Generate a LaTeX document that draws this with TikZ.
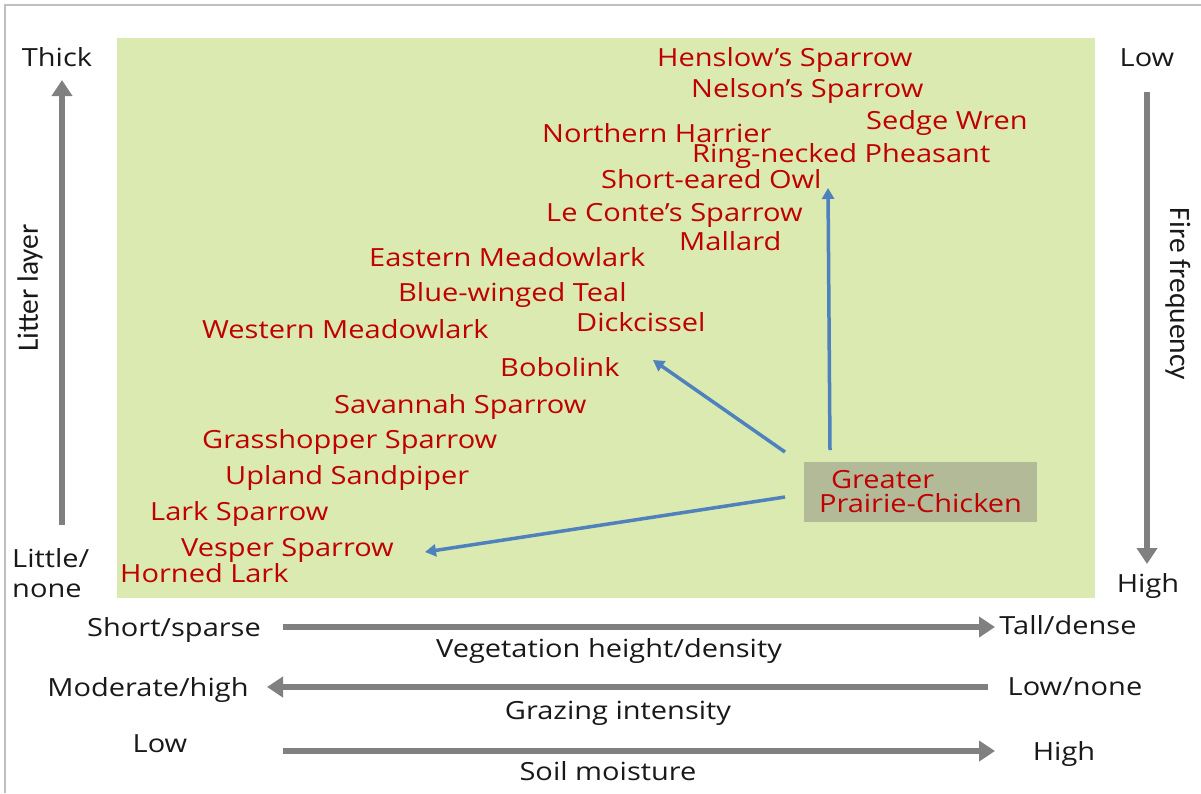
\documentclass[tikz,border=0pt]{standalone}
\usepackage{fontspec}
\setmainfont{Open Sans}[FakeStretch=1.16]
\newfontfamily\axisfont{Carlito}
\usetikzlibrary{arrows.meta}
\definecolor{meadow}{HTML}{DAEAB1}
\definecolor{birdred}{HTML}{C00000}
\definecolor{axisgray}{HTML}{808080}
\definecolor{flowblue}{HTML}{4F81BD}
\definecolor{chickbg}{HTML}{B3BA98}
\definecolor{framegray}{HTML}{BFBFBF}
\tikzset{
  bird/.style={text=birdred,inner sep=0pt,anchor=base west},
  lbl/.style={text=black!90,inner sep=0pt,anchor=base},
  axistitle/.style={font=\axisfont\fontsize{29.5}{34}\selectfont,text=black!90,inner sep=0pt},
  chick/.style={fill=chickbg,text=birdred,inner sep=0pt,align=left,
    minimum width=233,minimum height=60,font=\fontsize{25}{24}\selectfont},
  gradient/.style={-{Triangle[length=16pt,width=20pt]},line width=6pt,axisgray},
  flow/.style={-{Triangle[length=11pt,width=12pt]},line width=3.5pt,flowblue}}
\begin{document}
\begin{tikzpicture}[x=1pt,y=-1pt,font=\fontsize{25}{30}\selectfont]
  \useasboundingbox (0,0) rectangle (1201,793);
  \draw[framegray,line width=2pt] (5,793) |- (1201,5);
  \fill[meadow] (117,38) rectangle (1095,598);
  % birds, from thick litter down to bare ground
  \node[bird] (hens) at (657,66) {Henslow’s Sparrow};
  \node[bird] (nels) at (691,97) {Nelson’s Sparrow};
  \node[bird] (sedge) at (866,129) {Sedge Wren};
  \node[bird] (harrier) at (542,142) {Northern Harrier};
  \node[bird] (pheasant) at (692,162) {Ring-necked Pheasant};
  \node[bird] (owl) at (601,188) {Short-eared Owl};
  \node[bird] (lecontes) at (546,221) {Le Conte’s Sparrow};
  \node[bird] (mallard) at (679,250) {Mallard};
  \node[bird] (emeadow) at (369,266) {Eastern Meadowlark};
  \node[bird] (teal) at (398,301) {Blue-winged Teal};
  \node[bird] (wmeadow) at (202,338) {Western Meadowlark};
  \node[bird] (dick) at (576,331) {Dickcissel};
  \node[bird] (bobo) at (500,376) {Bobolink};
  \node[bird] (savannah) at (334,413) {Savannah Sparrow};
  \node[bird] (grasshopper) at (202,448) {Grasshopper Sparrow};
  \node[bird] (upland) at (225,484) {Upland Sandpiper};
  \node[bird] (larkspar) at (150,520) {Lark Sparrow};
  \node[bird] (vesper) at (181,556) {Vesper Sparrow};
  \node[bird] (horned) at (120,582) {Horned Lark};
  \node[chick] (gpc) at (920.5,492) {\hspace*{12pt}Greater\\Prairie-Chicken};
  % prairie-chicken spans the whole gradient
  \coordinate (upTail) at (830,450);
  \coordinate (upTip) at (828,188);
  \coordinate (diagTail) at (785,452);
  \coordinate (diagTip) at (653,360);
  \coordinate (lowTail) at (785,497);
  \coordinate (lowTip) at (425,552);
  \draw[flow] (upTail) -- (upTip);
  \draw[flow] (diagTail) -- (diagTip);
  \draw[flow] (lowTail) -- (lowTip);
  % side axes
  \node[lbl] (thick) at (57,66) {Thick};
  \node[lbl,anchor=west,align=left] (little) at (12,573) {Little/\\none};
  \node[axistitle,rotate=90] (litter) at (30,288) {Litter layer};
  \node[lbl] (fireLow) at (1147,66) {Low};
  \node[lbl] (fireHigh) at (1148,592) {High};
  \node[axistitle,rotate=-90] (fire) at (1178,294) {Fire frequency};
  \coordinate (litterLo) at (62,525);
  \coordinate (litterHi) at (62,80);
  \coordinate (fireLo) at (1147,92);
  \coordinate (fireHi) at (1147,564);
  \draw[gradient] (litterLo) -- (litterHi);
  \draw[gradient] (fireLo) -- (fireHi);
  % bottom axes
  \node[lbl] (short) at (174,636) {Short/sparse};
  \node[lbl] (tall) at (1068,634) {Tall/dense};
  \node[lbl] (veg) at (609,657) {Vegetation height/density};
  \node[lbl] (modhigh) at (148,696) {Moderate/high};
  \node[lbl] (lownone) at (1075,695) {Low/none};
  \node[lbl] (grazing) at (618,719) {Grazing intensity};
  \node[lbl] (moistLow) at (160,752) {Low};
  \node[lbl] (moistHigh) at (1064,760) {High};
  \node[lbl] (soil) at (608,780) {Soil moisture};
  \coordinate (vegL) at (283,627);
  \coordinate (vegR) at (995,627);
  \coordinate (grazL) at (267,687);
  \coordinate (grazR) at (988,687);
  \coordinate (soilL) at (283,751);
  \coordinate (soilR) at (995,751);
  \draw[gradient] (vegL) -- (vegR);
  \draw[gradient] (grazR) -- (grazL);
  \draw[gradient] (soilL) -- (soilR);
\end{tikzpicture}
\end{document}
